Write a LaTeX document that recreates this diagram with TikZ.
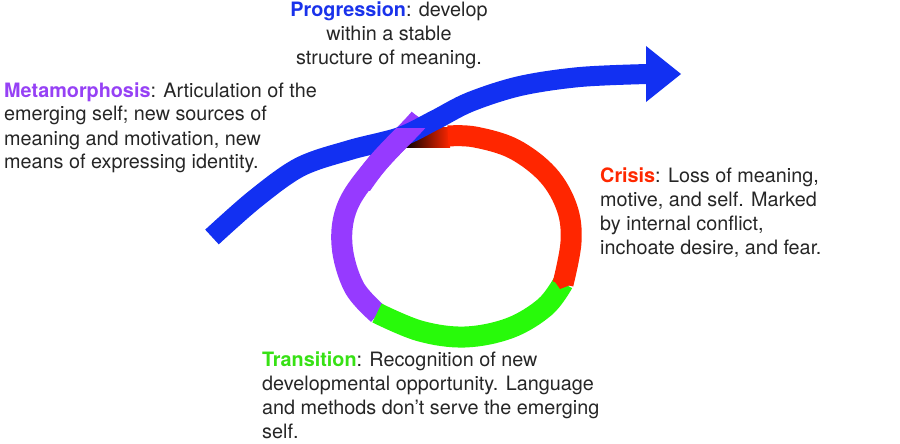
\documentclass[tikz,border=0pt]{standalone}
\usepackage{fontspec}
\setmainfont{TeX Gyre Heros}
\definecolor{bluec}{RGB}{18,48,242}
\definecolor{redc}{RGB}{255,38,0}
\definecolor{greenc}{RGB}{40,250,10}
\definecolor{purplec}{RGB}{150,58,255}
\definecolor{txt}{RGB}{38,38,38}
\definecolor{bluet}{RGB}{25,50,235}
\definecolor{purplet}{RGB}{150,65,245}
\definecolor{redt}{RGB}{255,40,0}
\definecolor{greent}{RGB}{55,225,20}
\tikzset{
  ring/.style={line width=21pt, line cap=butt, line join=round},
  lbl/.style={inner sep=0pt, text=txt, font=\fontsize{19.8}{24}\selectfont},
}
\begin{document}
\begin{tikzpicture}[x=1pt,y=-1pt]
\useasboundingbox (0,0) rectangle (900,444);
% purple lower part
\draw[ring, purplec] plot[smooth, tension=0.6] coordinates {(378,314) (354,287) (342,245) (348,205) (376,165) (412,127) (420,118)};
% green
\draw[ring, greenc] plot[smooth, tension=0.6] coordinates {(563,283) (545,307) (510,328) (465,337) (420,331) (377,313)};
% red shadow and red
\shade[left color=black, right color=redc] (404,127) rectangle (450,147);
\draw[ring, redc] plot[smooth, tension=0.6] coordinates {(448,136) (475,137) (514,149) (548,175) (567,208) (571,242) (563,284)};
\fill[redc] (553,279) -- (560,289) -- (573,284) -- cycle;
% blue arrow
\draw[bluec, line width=20pt, line cap=butt] plot[smooth, tension=0.55] coordinates {(212,237) (255,199) (300,167) (350,150) (400,137) (435,120) (470,102) (520,86) (580,77) (648,74)};
\fill[bluec] (646,46) -- (681,74) -- (646,102) -- cycle;
% purple top part over blue
\begin{scope}
\clip (300,128) rectangle (460,190);
\draw[ring, purplec] plot[smooth, tension=0.6] coordinates {(348,205) (376,165) (412,127) (420,118)};
\end{scope}
% texts
\node[lbl, anchor=base] (prog) at (389,17) {\begin{tabular}[t]{@{}c@{}}\textcolor{bluet}{\textbf{Progression}}: develop\\ within a stable\\ structure of meaning.\end{tabular}};
\node[lbl, anchor=base west] (meta) at (4,97) {\begin{tabular}[t]{@{}l@{}}\textcolor{purplet}{\textbf{Metamorphosis}}: Articulation of the\\ emerging self; new sources of\\ meaning and motivation, new\\ means of expressing identity.\end{tabular}};
\node[lbl, anchor=base west] (crisis) at (600,182) {\begin{tabular}[t]{@{}l@{}}\textcolor{redt}{\textbf{Crisis}}: Loss of meaning,\\ motive, and self. Marked\\ by internal conflict,\\ inchoate desire, and fear.\end{tabular}};
\node[lbl, anchor=base west] (trans) at (262,366) {\begin{tabular}[t]{@{}l@{}}\textcolor{greent}{\textbf{Transition}}: Recognition of new\\ developmental opportunity. Language\\ and methods don't serve the emerging\\ self.\end{tabular}};
\end{tikzpicture}
\end{document}
